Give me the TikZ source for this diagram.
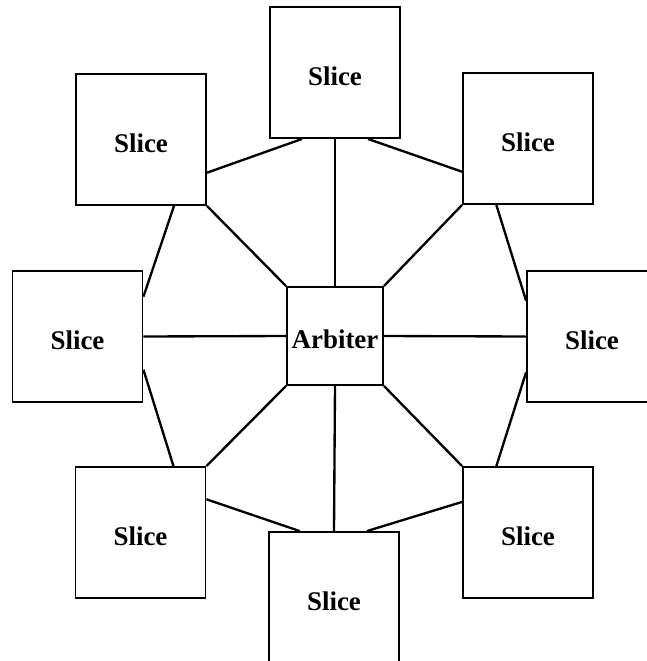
\documentclass[tikz,border=0pt]{standalone}
\usepackage{fontspec}
\setmainfont{Liberation Serif}
\usetikzlibrary{calc}
\begin{document}
\begin{tikzpicture}[x=0.03cm,y=-0.03cm,
  slice/.style={draw,line width=1.6pt,minimum width=3.9cm,minimum height=3.93cm,inner sep=0pt,text height=23pt,text depth=0pt,font=\fontsize{23}{27}\selectfont\bfseries},
  arb/.style={draw,line width=1.6pt,minimum width=2.88cm,minimum height=2.94cm,inner sep=0pt,text height=21pt,text depth=0pt,font=\fontsize{23}{27}\selectfont\bfseries},
  link/.style={line width=2pt}]
\useasboundingbox (0,0) rectangle (647,661);
\clip (0,0) rectangle (647,661);

% arbiter in the middle
\node[arb] (arb) at (335,336) {Arbiter};

% slices round it
\node[slice] (top) at (335,72.5) {Slice};
\node[slice] (tl) at (141,139.5) {Slice};
\node[slice] (tr) at (528,138.5) {Slice};
\node[slice] (lft) at (77.5,336.5) {Slice};
\node[slice] (rgt) at (592,336.5) {Slice};
\node[slice] (bl) at (140.5,532.5) {Slice};
\node[slice] (bot) at (334,597.5) {Slice};
\node[slice] (br) at (528,532.5) {Slice};

% spokes
\draw[link] (arb.north) -- (top.south);
\draw[link] (arb.south) -- (bot.north);
\draw[link] (arb.west) -- (lft.east);
\draw[link] (arb.east) -- (rgt.west);
\draw[link] (arb.north west) -- (tl.south east);
\draw[link] (arb.north east) -- (tr.south west);
\draw[link] (arb.south west) -- (bl.north east);
\draw[link] (arb.south east) -- (br.north west);

% ring
\draw[link] ($(tl.south east)!.25!(tl.north east)$) -- ($(top.south west)!.25!(top.south east)$);
\draw[link] ($(top.south west)!.75!(top.south east)$) -- ($(tr.south west)!.25!(tr.north west)$);
\draw[link] ($(tl.south west)!.75!(tl.south east)$) -- ($(lft.north east)!.2!(lft.south east)$);
\draw[link] ($(tr.south west)!.26!(tr.south east)$) -- ($(rgt.north west)!.23!(rgt.south west)$);
\draw[link] ($(lft.north east)!.75!(lft.south east)$) -- ($(bl.north west)!.75!(bl.north east)$);
\draw[link] ($(bl.north east)!.25!(bl.south east)$) -- ($(bot.north west)!.24!(bot.north east)$);
\draw[link] ($(bot.north west)!.75!(bot.north east)$) -- ($(br.north west)!.27!(br.south west)$);
\draw[link] ($(br.north west)!.26!(br.north east)$) -- ($(rgt.north west)!.77!(rgt.south west)$);
\end{tikzpicture}
\end{document}
